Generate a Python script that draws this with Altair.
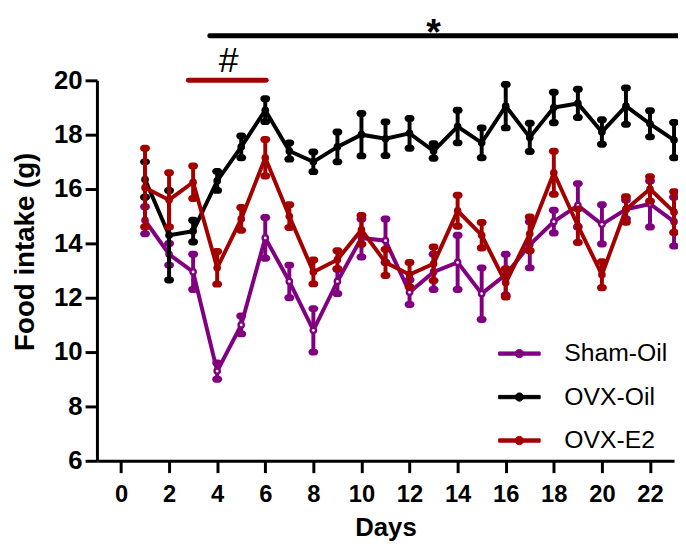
import altair as alt
import pandas as pd

days = list(range(1, 24))
groups = ["Sham-Oil", "OVX-Oil", "OVX-E2"]
colors = ["#800080", "#000000", "#A30000"]

sham_mean = [14.85, 13.6, 12.95, 9.3, 11.0, 14.2, 12.6, 10.8, 12.6, 14.2, 14.1, 12.2,
             12.95, 13.3, 12.15, 12.85, 13.95, 14.8, 15.4, 14.7, 15.25, 15.45, 14.8]
sham_sem = [0.5, 0.4, 0.65, 0.3, 0.33, 0.75, 0.6, 0.8, 0.45, 0.7, 0.8, 0.45,
            0.65, 1.0, 0.95, 0.75, 0.85, 0.42, 0.8, 0.72, 0.35, 0.85, 0.9]
ovxoil_mean = [16.35, 14.3, 14.45, 16.3, 17.55, 18.9, 17.4, 17.0, 17.55, 18.0, 17.85, 18.05,
               17.4, 18.3, 17.7, 19.05, 17.9, 19.0, 19.15, 18.1, 19.05, 18.4, 17.8]
ovxoil_sem = [0.65, 1.65, 0.4, 0.35, 0.4, 0.42, 0.3, 0.36, 0.55, 0.78, 0.62, 0.55,
              0.27, 0.6, 0.55, 0.8, 0.52, 0.56, 0.52, 0.45, 0.67, 0.48, 0.65]
ovxe2_mean = [16.05, 15.6, 16.25, 13.1, 14.9, 17.15, 15.0, 12.95, 13.4, 14.5, 13.3, 12.85,
              13.25, 15.2, 14.3, 12.55, 14.35, 16.6, 14.65, 12.85, 15.25, 16.0, 15.15]
ovxe2_sem = [1.45, 1.0, 0.6, 0.6, 0.42, 0.67, 0.42, 0.44, 0.33, 0.53, 0.48, 0.45,
             0.62, 0.57, 0.47, 0.52, 0.62, 0.79, 0.62, 0.48, 0.47, 0.45, 0.75]

x_ticks = list(range(0, 23, 2))
y_ticks = list(range(6, 21, 2))

# significance annotations (data coordinates)
star_bar = {"x": 3.69, "x2": 23.4, "y": 21.64}
hash_bar = {"x": 2.8, "x2": 6.04, "y": 20.0}
star_text = {"x": 13.0, "y": 22.4, "t": "*"}
hash_text = {"x": 4.48, "y": 20.32, "t": "#"}

rows = []
for g, m, e in zip(groups, [sham_mean, ovxoil_mean, ovxe2_mean], [sham_sem, ovxoil_sem, ovxe2_sem]):
    for d, mm, ee in zip(days, m, e):
        rows.append({"day": d, "group": g, "mean": mm, "lo": mm - ee, "hi": mm + ee})
df = pd.DataFrame(rows)

FONT = "Liberation Sans"

xscale = alt.Scale(domain=[-1, 23], nice=False, zero=False)
yscale = alt.Scale(domain=[6, 20], nice=False, zero=False)
xaxis = alt.Axis(values=x_ticks, title="Days", grid=False, labelFont=FONT, labelFontSize=24,
                 labelFontWeight="bold", labelColor="black", labelPadding=10, labelFlush=False,
                 labelOverlap=False, tickSize=12, tickWidth=3, tickColor="black",
                 domainWidth=3, domainColor="black", titleFont=FONT, titleFontSize=26,
                 titleFontWeight="bold", titleColor="black", titleX=292, titleY=76,
                 titleBaseline="alphabetic", titleAlign="center")
yaxis = alt.Axis(values=y_ticks, title="Food intake (g)", grid=False, labelFont=FONT,
                 labelFontSize=26, labelFontWeight="bold", labelColor="black", labelPadding=3,
                 labelFlush=False, labelOverlap=False, tickSize=12, tickWidth=3, tickColor="black",
                 domainWidth=3, domainColor="black", titleFont=FONT, titleFontSize=28,
                 titleFontWeight="bold", titleColor="black", titleX=-72, titleY=173,
                 titleAngle=-90, titleAlign="center", titleBaseline="middle")

legend_path = ("M-1,-0.08H1V0.08H-1Z M0.2,0A0.2,0.2,0,1,1,-0.2,0A0.2,0.2,0,1,1,0.2,0Z")
legend = alt.Legend(title=None, orient="none", legendX=406, legendY=255, symbolType=legend_path,
                    symbolSize=1764, symbolStrokeWidth=1, symbolOpacity=1, labelFont=FONT,
                    labelFontSize=25, labelColor="black", labelOffset=24, rowPadding=9, padding=0)
color = alt.Color("group:N", scale=alt.Scale(domain=groups, range=colors), legend=legend)

X = alt.X("day:Q", scale=xscale, axis=xaxis)
Ymean = alt.Y("mean:Q", scale=yscale, axis=yaxis)
Ylo = alt.Y("lo:Q", scale=yscale, axis=yaxis)
Yhi = alt.Y("hi:Q", scale=yscale, axis=yaxis)

layers = []
for g in groups:
    base = alt.Chart(df).transform_filter(alt.datum.group == g)
    layers.append(base.mark_rule(strokeWidth=4).encode(x=X, y=Ylo, y2="hi:Q", color=color))
    layers.append(base.mark_tick(orient="horizontal", size=10, thickness=7, cornerRadius=3.5,
                                 opacity=1).encode(x=X, y=Ylo, color=color))
    layers.append(base.mark_tick(orient="horizontal", size=10, thickness=7, cornerRadius=3.5,
                                 opacity=1).encode(x=X, y=Yhi, color=color))
    layers.append(base.mark_line(strokeWidth=4).encode(x=X, y=Ymean, color=color))
    layers.append(base.mark_point(filled=True, size=60, opacity=1).encode(x=X, y=Ymean, color=color))
    if g == "Sham-Oil":
        layers.append(base.mark_point(filled=True, size=8, opacity=1, color="white")
                      .encode(x=X, y=Ymean))

ann_bars = pd.DataFrame([
    {"x": star_bar["x"], "x2": star_bar["x2"], "y": star_bar["y"], "c": "black"},
    {"x": hash_bar["x"], "x2": hash_bar["x2"], "y": hash_bar["y"], "c": "#A30000"},
])
bars = alt.Chart(ann_bars).mark_rule(strokeWidth=5, strokeCap="round", clip=False).encode(
    x=alt.X("x:Q", scale=xscale, axis=xaxis), x2="x2:Q",
    y=alt.Y("y:Q", scale=yscale, axis=yaxis),
    stroke=alt.Stroke("c:N", scale=None, legend=None))

star = alt.Chart(pd.DataFrame([star_text])).mark_text(
    font=FONT, fontSize=38, fontWeight="bold", baseline="top", align="center", color="black",
    clip=False).encode(x=alt.X("x:Q", scale=xscale, axis=xaxis), y=alt.Y("y:Q", scale=yscale, axis=yaxis), text="t:N")
hsh = alt.Chart(pd.DataFrame([hash_text])).mark_text(
    font=FONT, fontSize=36, baseline="alphabetic", align="center", color="black",
    clip=False).encode(x=alt.X("x:Q", scale=xscale, axis=xaxis), y=alt.Y("y:Q", scale=yscale, axis=yaxis), text="t:N")

chart = alt.layer(*layers, bars, star, hsh).properties(
    width=584, height=385,
    padding={"left": 90, "top": 70, "right": 4, "bottom": 80},
    autosize=alt.AutoSizeParams(type="none"),
).configure_view(stroke=None)

chart.save("out.html", embed_options={"renderer": "svg", "actions": False})
